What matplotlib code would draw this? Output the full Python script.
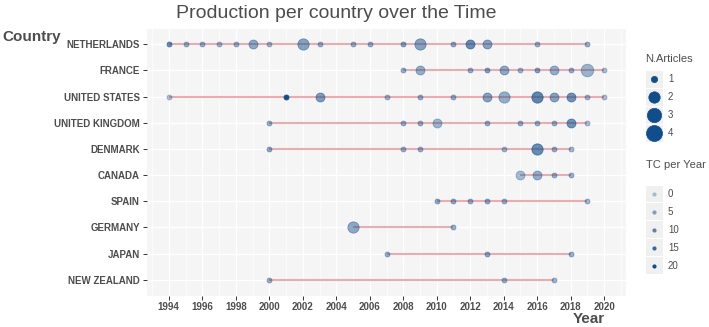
import numpy as np
import matplotlib
matplotlib.use("Agg")
import matplotlib.pyplot as plt
from matplotlib.patches import Rectangle

plt.rcParams['font.family'] = ['Liberation Sans', 'DejaVu Sans']

# Data
countries = ['NETHERLANDS', 'FRANCE', 'UNITED STATES', 'UNITED KINGDOM', 'DENMARK',
             'CANADA', 'SPAIN', 'GERMANY', 'JAPAN', 'NEW ZEALAND']

country = (['NETHERLANDS'] * 18 + ['FRANCE'] * 11 + ['UNITED STATES'] * 13 +
           ['UNITED KINGDOM'] * 10 + ['DENMARK'] * 7 + ['CANADA'] * 4 +
           ['SPAIN'] * 6 + ['GERMANY'] * 2 + ['JAPAN'] * 3 + ['NEW ZEALAND'] * 3)
year = [1994, 1995, 1996, 1997, 1998, 1999, 2000, 2002, 2003, 2005, 2006, 2008, 2009, 2011, 2012, 2013, 2016, 2019,
        2008, 2009, 2012, 2013, 2014, 2015, 2016, 2017, 2018, 2019, 2020,
        1994, 2001, 2003, 2007, 2009, 2011, 2013, 2014, 2016, 2017, 2018, 2019, 2020,
        2000, 2008, 2009, 2010, 2013, 2015, 2016, 2017, 2018, 2019,
        2000, 2008, 2009, 2014, 2016, 2017, 2018,
        2015, 2016, 2017, 2018,
        2010, 2011, 2012, 2013, 2014, 2019,
        2005, 2011,
        2007, 2013, 2018,
        2000, 2014, 2017]
n_articles = [1, 1, 1, 1, 1, 2, 1, 3, 1, 1, 1, 1, 3, 1, 2, 2, 1, 1,
              1, 2, 1, 1, 2, 1, 1, 2, 1, 4, 1,
              1, 1, 2, 1, 1, 1, 2, 3, 3, 2, 2, 1, 1,
              1, 1, 1, 2, 1, 1, 1, 1, 2, 1,
              1, 1, 1, 1, 3, 1, 1,
              2, 2, 1, 1,
              1, 1, 1, 1, 1, 1,
              3, 1,
              1, 1, 1,
              1, 1, 1]
tc_per_year = [9, 3, 3, 2, 3, 4, 2, 5, 3, 3, 3, 5, 5, 4, 9, 5, 3, 3,
               3, 3, 3, 5, 4, 2, 5, 3, 3, 2, 1,
               0, 20, 6, 2, 3, 3, 5, 3, 10, 5, 8, 2, 1,
               3, 3, 3, 2, 3, 3, 3, 3, 8, 1,
               4, 3, 3, 2, 9, 3, 2,
               1, 3, 3, 3,
               4, 4, 3, 4, 3, 2,
               4, 3,
               3, 4, 3,
               3, 3, 2]

size_levels = [1, 2, 3, 4]
tc_levels = [0, 5, 10, 15, 20]
year_ticks = list(range(1994, 2021, 2))

point_color = '#104E8B'
line_color = '#e6aeb0'
text_color = '#4d4d4d'


def diam_px(n):
    return {1: 5.0, 2: 9.0, 3: 11.3, 4: 12.6}[n]


def marker_s(n):
    return (diam_px(n) * 0.72) ** 2


def alpha_of(tc):
    return 0.33 + 0.67 * tc / 20.0


W, H = 709, 327
fig = plt.figure(figsize=(W / 100, H / 100), dpi=100)
ax = fig.add_axes([147 / W, 1 - 295.5 / H, (626 - 147) / W, (295.5 - 28.5) / H])
ax.set_facecolor('#f5f5f5')
for s in ax.spines.values():
    s.set_visible(False)

ypos = {c: i for i, c in enumerate(countries)}
yr = np.array(year)
cy = np.array([ypos[c] for c in country])

# Lines per country
for c in countries:
    m = cy == ypos[c]
    ax.plot([yr[m].min(), yr[m].max()], [ypos[c], ypos[c]], color=line_color,
            lw=1.5, solid_capstyle='butt', zorder=2)

# Points
for x, y, n, t in zip(yr, cy, n_articles, tc_per_year):
    ax.scatter(x, y, s=marker_s(n), color=point_color, alpha=alpha_of(t),
               edgecolors=point_color, linewidths=0.6, zorder=3)

ax.set_xlim(1992.7, 2021.3)
ax.set_ylim(len(countries) - 1 + 0.6, -0.6)
ax.set_xticks(year_ticks)
ax.set_xticks(range(1993, 2022, 2), minor=True)
ax.set_yticks(range(len(countries)))
ax.set_yticklabels(countries)
ax.grid(which='major', color='white', lw=1.0, zorder=0)
ax.grid(which='minor', axis='x', color='white', lw=0.5, zorder=0)
ax.set_axisbelow(True)
ax.tick_params(axis='both', which='major', length=3, width=0.7, color='#333333',
               labelsize=7, labelcolor=text_color, pad=2)
ax.tick_params(axis='both', which='minor', length=0)
for lab in ax.get_xticklabels() + ax.get_yticklabels():
    lab.set_fontweight('bold')

fig.text(336 / W, 1 - 14 / H, 'Production per country over the Time', ha='center', va='center',
         fontsize=14, color=text_color)
fig.text(2 / W, 1 - 37 / H, 'Country', ha='left', va='center', fontsize=11,
         fontweight='bold', color=text_color)
fig.text(605 / W, 1 - 319 / H, 'Year', ha='right', va='center', fontsize=11,
         fontweight='bold', color=text_color)

# Legends (drawn in an overlay axes in pixel coordinates)
lg = fig.add_axes([0, 0, 1, 1])
lg.set_xlim(0, W)
lg.set_ylim(H, 0)
lg.axis('off')
key_x, key_w, lab_x = 645.5, 17, 668


def legend_block(title, title_y, first_y, step, levels, draw):
    lg.text(key_x, title_y, title, ha='left', va='center', fontsize=8, color=text_color)
    for i, lev in enumerate(levels):
        yc = first_y + i * step
        lg.add_patch(Rectangle((key_x, yc - step / 2 + 0.5), key_w, step - 1,
                               facecolor='#f0f0f0', edgecolor='none'))
        draw(key_x + key_w / 2, yc, lev)
        lg.text(lab_x, yc, str(lev), ha='left', va='center', fontsize=7, color=text_color)


legend_block('N.Articles', 59, 79, 18, size_levels,
             lambda x, y, n: lg.scatter(x, y, s=marker_s(n) * 1.6, color=point_color,
                                        edgecolors=point_color, linewidths=0.5))
legend_block('TC per Year', 165, 194, 17.9, tc_levels,
             lambda x, y, t: lg.scatter(x, y, s=marker_s(1) * 0.7, color=point_color,
                                        alpha=alpha_of(t), linewidths=0))

fig.savefig('out.png', dpi=100)
